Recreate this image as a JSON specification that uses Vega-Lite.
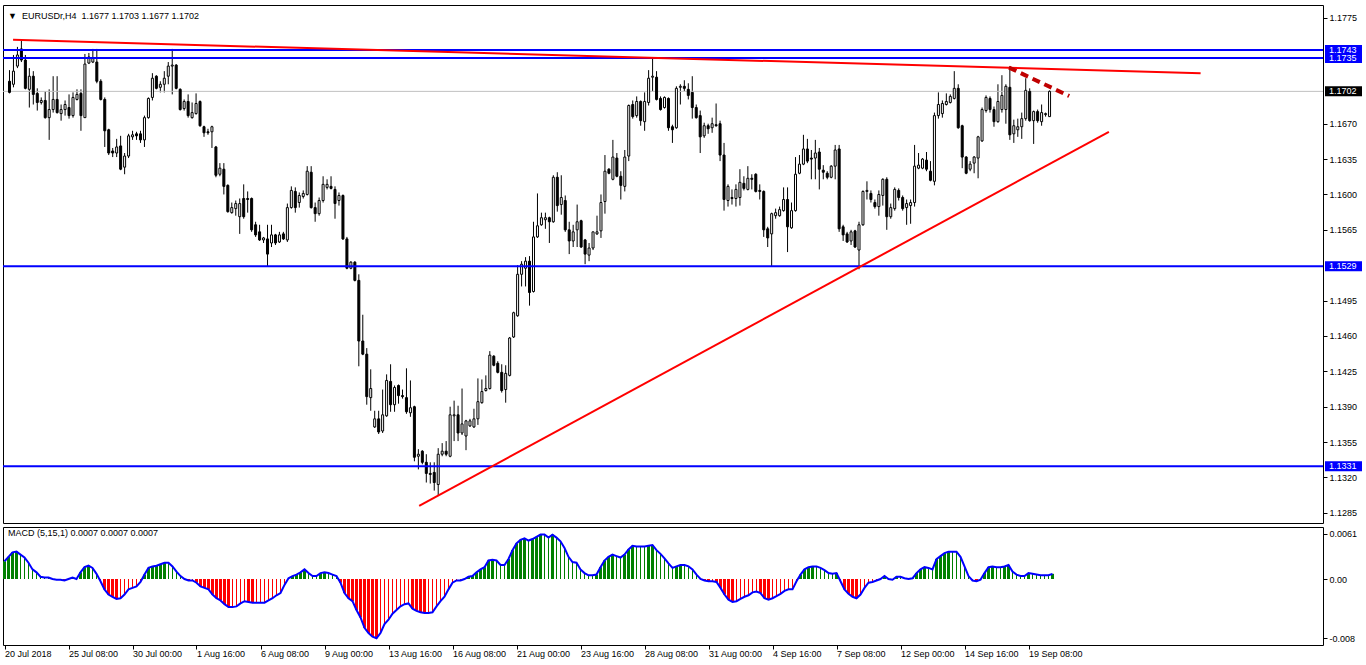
{
"$schema": "https://vega.github.io/schema/vega-lite/v6.json",
"background": "white",
"autosize": {"type": "pad"},
"padding": {"left": 0, "top": 4, "right": 0, "bottom": 0},
"spacing": 2,
"resolve": {"scale": {"x": "independent", "y": "independent"}, "axis": {"x": "independent", "y": "independent"}},
"config": {
  "font": "Liberation Sans",
  "view": {"stroke": "black", "strokeWidth": 1}
},
"datasets": {
"bars": [
{"i":0,"o":1.1712,"h":1.1723,"l":1.1700,"c":1.1701,"m":0.0024},
{"i":1,"o":1.1709,"h":1.1738,"l":1.1706,"c":1.1722,"m":0.0030},
{"i":2,"o":1.1727,"h":1.1746,"l":1.1725,"c":1.1738,"m":0.0036},
{"i":3,"o":1.1744,"h":1.1752,"l":1.1731,"c":1.1733,"m":0.0037},
{"i":4,"o":1.1733,"h":1.1738,"l":1.1704,"c":1.1705,"m":0.0033},
{"i":5,"o":1.1704,"h":1.1725,"l":1.1686,"c":1.1717,"m":0.0029},
{"i":6,"o":1.1717,"h":1.1722,"l":1.1689,"c":1.1699,"m":0.0022},
{"i":7,"o":1.1700,"h":1.1705,"l":1.1683,"c":1.1691,"m":0.0013},
{"i":8,"o":1.1691,"h":1.1696,"l":1.1689,"c":1.1693,"m":0.0009},
{"i":9,"o":1.1693,"h":1.1702,"l":1.1675,"c":1.1676,"m":0.0003},
{"i":10,"o":1.1676,"h":1.1704,"l":1.1654,"c":1.1684,"m":0.0002},
{"i":11,"o":1.1684,"h":1.1717,"l":1.1681,"c":1.1694,"m":0.0002},
{"i":12,"o":1.1694,"h":1.1717,"l":1.1680,"c":1.1681,"m":0.0000},
{"i":13,"o":1.1680,"h":1.1689,"l":1.1673,"c":1.1684,"m":-0.0001},
{"i":14,"o":1.1684,"h":1.1693,"l":1.1678,"c":1.1689,"m":-0.0001},
{"i":15,"o":1.1686,"h":1.1699,"l":1.1675,"c":1.1678,"m":-0.0002},
{"i":16,"o":1.1678,"h":1.1701,"l":1.1676,"c":1.1696,"m":0.0000},
{"i":17,"o":1.1694,"h":1.1704,"l":1.1693,"c":1.1699,"m":0.0002},
{"i":18,"o":1.1700,"h":1.1704,"l":1.1663,"c":1.1678,"m":0.0000},
{"i":19,"o":1.1676,"h":1.1739,"l":1.1676,"c":1.1729,"m":0.0009},
{"i":20,"o":1.1730,"h":1.1740,"l":1.1729,"c":1.1736,"m":0.0016},
{"i":21,"o":1.1731,"h":1.1744,"l":1.1730,"c":1.1735,"m":0.0018},
{"i":22,"o":1.1731,"h":1.1744,"l":1.1710,"c":1.1712,"m":0.0015},
{"i":23,"o":1.1712,"h":1.1714,"l":1.1693,"c":1.1694,"m":0.0007},
{"i":24,"o":1.1694,"h":1.1696,"l":1.1647,"c":1.1663,"m":-0.0003},
{"i":25,"o":1.1664,"h":1.1665,"l":1.1639,"c":1.1641,"m":-0.0014},
{"i":26,"o":1.1643,"h":1.1646,"l":1.1637,"c":1.1641,"m":-0.0021},
{"i":27,"o":1.1641,"h":1.1655,"l":1.1637,"c":1.1647,"m":-0.0024},
{"i":28,"o":1.1648,"h":1.1658,"l":1.1624,"c":1.1625,"m":-0.0027},
{"i":29,"o":1.1627,"h":1.1641,"l":1.1620,"c":1.1638,"m":-0.0026},
{"i":30,"o":1.1638,"h":1.1660,"l":1.1636,"c":1.1658,"m":-0.0021},
{"i":31,"o":1.1657,"h":1.1663,"l":1.1654,"c":1.1659,"m":-0.0014},
{"i":32,"o":1.1660,"h":1.1662,"l":1.1654,"c":1.1658,"m":-0.0012},
{"i":33,"o":1.1660,"h":1.1663,"l":1.1651,"c":1.1654,"m":-0.0010},
{"i":34,"o":1.1654,"h":1.1678,"l":1.1647,"c":1.1676,"m":-0.0004},
{"i":35,"o":1.1676,"h":1.1696,"l":1.1675,"c":1.1695,"m":0.0006},
{"i":36,"o":1.1696,"h":1.1720,"l":1.1693,"c":1.1715,"m":0.0015},
{"i":37,"o":1.1717,"h":1.1718,"l":1.1704,"c":1.1705,"m":0.0017},
{"i":38,"o":1.1706,"h":1.1712,"l":1.1701,"c":1.1709,"m":0.0018},
{"i":39,"o":1.1709,"h":1.1722,"l":1.1701,"c":1.1715,"m":0.0020},
{"i":40,"o":1.1717,"h":1.1731,"l":1.1709,"c":1.1727,"m":0.0022},
{"i":41,"o":1.1727,"h":1.1744,"l":1.1699,"c":1.1728,"m":0.0022},
{"i":42,"o":1.1728,"h":1.1729,"l":1.1704,"c":1.1705,"m":0.0017},
{"i":43,"o":1.1704,"h":1.1705,"l":1.1683,"c":1.1684,"m":0.0010},
{"i":44,"o":1.1685,"h":1.1694,"l":1.1683,"c":1.1692,"m":0.0004},
{"i":45,"o":1.1692,"h":1.1699,"l":1.1676,"c":1.1678,"m":0.0000},
{"i":46,"o":1.1676,"h":1.1691,"l":1.1675,"c":1.1681,"m":-0.0002},
{"i":47,"o":1.1680,"h":1.1700,"l":1.1679,"c":1.1690,"m":-0.0002},
{"i":48,"o":1.1692,"h":1.1693,"l":1.1667,"c":1.1668,"m":-0.0005},
{"i":49,"o":1.1667,"h":1.1668,"l":1.1657,"c":1.1661,"m":-0.0010},
{"i":50,"o":1.1662,"h":1.1665,"l":1.1659,"c":1.1661,"m":-0.0012},
{"i":51,"o":1.1662,"h":1.1668,"l":1.1646,"c":1.1667,"m":-0.0014},
{"i":52,"o":1.1647,"h":1.1648,"l":1.1617,"c":1.1619,"m":-0.0021},
{"i":53,"o":1.1620,"h":1.1631,"l":1.1618,"c":1.1626,"m":-0.0026},
{"i":54,"o":1.1625,"h":1.1631,"l":1.1600,"c":1.1608,"m":-0.0029},
{"i":55,"o":1.1609,"h":1.1610,"l":1.1582,"c":1.1583,"m":-0.0034},
{"i":56,"o":1.1582,"h":1.1592,"l":1.1581,"c":1.1587,"m":-0.0038},
{"i":57,"o":1.1586,"h":1.1594,"l":1.1579,"c":1.1591,"m":-0.0038},
{"i":58,"o":1.1578,"h":1.1596,"l":1.1561,"c":1.1591,"m":-0.0037},
{"i":59,"o":1.1596,"h":1.1610,"l":1.1576,"c":1.1578,"m":-0.0033},
{"i":60,"o":1.1596,"h":1.1603,"l":1.1582,"c":1.1595,"m":-0.0030},
{"i":61,"o":1.1596,"h":1.1597,"l":1.1563,"c":1.1565,"m":-0.0031},
{"i":62,"o":1.1570,"h":1.1573,"l":1.1558,"c":1.1560,"m":-0.0032},
{"i":63,"o":1.1563,"h":1.1570,"l":1.1554,"c":1.1555,"m":-0.0032},
{"i":64,"o":1.1555,"h":1.1558,"l":1.1552,"c":1.1557,"m":-0.0032},
{"i":65,"o":1.1556,"h":1.1570,"l":1.1529,"c":1.1541,"m":-0.0032},
{"i":66,"o":1.1552,"h":1.1570,"l":1.1548,"c":1.1560,"m":-0.0029},
{"i":67,"o":1.1560,"h":1.1561,"l":1.1550,"c":1.1552,"m":-0.0026},
{"i":68,"o":1.1553,"h":1.1563,"l":1.1552,"c":1.1560,"m":-0.0022},
{"i":69,"o":1.1561,"h":1.1563,"l":1.1555,"c":1.1556,"m":-0.0019},
{"i":70,"o":1.1555,"h":1.1591,"l":1.1553,"c":1.1587,"m":-0.0008},
{"i":71,"o":1.1587,"h":1.1608,"l":1.1586,"c":1.1604,"m":0.0001},
{"i":72,"o":1.1603,"h":1.1607,"l":1.1582,"c":1.1587,"m":0.0004},
{"i":73,"o":1.1592,"h":1.1602,"l":1.1587,"c":1.1599,"m":0.0006},
{"i":74,"o":1.1598,"h":1.1604,"l":1.1596,"c":1.1601,"m":0.0009},
{"i":75,"o":1.1600,"h":1.1628,"l":1.1599,"c":1.1623,"m":0.0013},
{"i":76,"o":1.1622,"h":1.1628,"l":1.1586,"c":1.1587,"m":0.0008},
{"i":77,"o":1.1587,"h":1.1592,"l":1.1573,"c":1.1581,"m":0.0004},
{"i":78,"o":1.1581,"h":1.1597,"l":1.1579,"c":1.1594,"m":0.0004},
{"i":79,"o":1.1594,"h":1.1618,"l":1.1592,"c":1.1610,"m":0.0008},
{"i":80,"o":1.1607,"h":1.1615,"l":1.1605,"c":1.1610,"m":0.0009},
{"i":81,"o":1.1608,"h":1.1618,"l":1.1605,"c":1.1606,"m":0.0008},
{"i":82,"o":1.1605,"h":1.1608,"l":1.1576,"c":1.1591,"m":0.0006},
{"i":83,"o":1.1594,"h":1.1602,"l":1.1589,"c":1.1599,"m":0.0004},
{"i":84,"o":1.1599,"h":1.1600,"l":1.1555,"c":1.1556,"m":-0.0005},
{"i":85,"o":1.1556,"h":1.1558,"l":1.1526,"c":1.1527,"m":-0.0019},
{"i":86,"o":1.1527,"h":1.1534,"l":1.1526,"c":1.1533,"m":-0.0026},
{"i":87,"o":1.1533,"h":1.1534,"l":1.1514,"c":1.1515,"m":-0.0030},
{"i":88,"o":1.1515,"h":1.1521,"l":1.1430,"c":1.1455,"m":-0.0042},
{"i":89,"o":1.1455,"h":1.1481,"l":1.1441,"c":1.1442,"m":-0.0052},
{"i":90,"o":1.1442,"h":1.1448,"l":1.1392,"c":1.1400,"m":-0.0066},
{"i":91,"o":1.1399,"h":1.1427,"l":1.1386,"c":1.1408,"m":-0.0073},
{"i":92,"o":1.1370,"h":1.1386,"l":1.1369,"c":1.1378,"m":-0.0078},
{"i":93,"o":1.1378,"h":1.1386,"l":1.1363,"c":1.1365,"m":-0.0080},
{"i":94,"o":1.1366,"h":1.1407,"l":1.1364,"c":1.1382,"m":-0.0073},
{"i":95,"o":1.1381,"h":1.1422,"l":1.1380,"c":1.1416,"m":-0.0061},
{"i":96,"o":1.1415,"h":1.1432,"l":1.1385,"c":1.1392,"m":-0.0055},
{"i":97,"o":1.1392,"h":1.1411,"l":1.1385,"c":1.1409,"m":-0.0047},
{"i":98,"o":1.1411,"h":1.1412,"l":1.1393,"c":1.1401,"m":-0.0042},
{"i":99,"o":1.1401,"h":1.1407,"l":1.1398,"c":1.1400,"m":-0.0037},
{"i":100,"o":1.1399,"h":1.1428,"l":1.1383,"c":1.1385,"m":-0.0034},
{"i":101,"o":1.1384,"h":1.1416,"l":1.1380,"c":1.1389,"m":-0.0033},
{"i":102,"o":1.1390,"h":1.1391,"l":1.1336,"c":1.1340,"m":-0.0040},
{"i":103,"o":1.1341,"h":1.1348,"l":1.1328,"c":1.1343,"m":-0.0043},
{"i":104,"o":1.1346,"h":1.1347,"l":1.1333,"c":1.1335,"m":-0.0045},
{"i":105,"o":1.1335,"h":1.1343,"l":1.1315,"c":1.1324,"m":-0.0046},
{"i":106,"o":1.1324,"h":1.1335,"l":1.1314,"c":1.1323,"m":-0.0046},
{"i":107,"o":1.1325,"h":1.1335,"l":1.1307,"c":1.1315,"m":-0.0045},
{"i":108,"o":1.1313,"h":1.1349,"l":1.1302,"c":1.1343,"m":-0.0037},
{"i":109,"o":1.1343,"h":1.1354,"l":1.1341,"c":1.1346,"m":-0.0030},
{"i":110,"o":1.1346,"h":1.1356,"l":1.1341,"c":1.1343,"m":-0.0024},
{"i":111,"o":1.1341,"h":1.1390,"l":1.1340,"c":1.1382,"m":-0.0014},
{"i":112,"o":1.1381,"h":1.1396,"l":1.1356,"c":1.1382,"m":-0.0005},
{"i":113,"o":1.1382,"h":1.1391,"l":1.1356,"c":1.1364,"m":-0.0002},
{"i":114,"o":1.1364,"h":1.1408,"l":1.1362,"c":1.1373,"m":-0.0002},
{"i":115,"o":1.1361,"h":1.1377,"l":1.1347,"c":1.1376,"m":0.0000},
{"i":116,"o":1.1371,"h":1.1378,"l":1.1370,"c":1.1376,"m":0.0003},
{"i":117,"o":1.1370,"h":1.1388,"l":1.1369,"c":1.1378,"m":0.0004},
{"i":118,"o":1.1378,"h":1.1418,"l":1.1372,"c":1.1395,"m":0.0009},
{"i":119,"o":1.1394,"h":1.1417,"l":1.1393,"c":1.1405,"m":0.0013},
{"i":120,"o":1.1406,"h":1.1421,"l":1.1405,"c":1.1408,"m":0.0016},
{"i":121,"o":1.1408,"h":1.1445,"l":1.1407,"c":1.1441,"m":0.0025},
{"i":122,"o":1.1440,"h":1.1441,"l":1.1430,"c":1.1431,"m":0.0026},
{"i":123,"o":1.1433,"h":1.1435,"l":1.1423,"c":1.1424,"m":0.0025},
{"i":124,"o":1.1424,"h":1.1432,"l":1.1404,"c":1.1406,"m":0.0019},
{"i":125,"o":1.1407,"h":1.1431,"l":1.1394,"c":1.1423,"m":0.0019},
{"i":126,"o":1.1421,"h":1.1459,"l":1.1420,"c":1.1458,"m":0.0027},
{"i":127,"o":1.1459,"h":1.1484,"l":1.1458,"c":1.1483,"m":0.0039},
{"i":128,"o":1.1480,"h":1.1530,"l":1.1479,"c":1.1521,"m":0.0048},
{"i":129,"o":1.1521,"h":1.1534,"l":1.1509,"c":1.1531,"m":0.0053},
{"i":130,"o":1.1527,"h":1.1538,"l":1.1509,"c":1.1534,"m":0.0055},
{"i":131,"o":1.1534,"h":1.1539,"l":1.1490,"c":1.1503,"m":0.0052},
{"i":132,"o":1.1504,"h":1.1573,"l":1.1503,"c":1.1558,"m":0.0054},
{"i":133,"o":1.1558,"h":1.1601,"l":1.1557,"c":1.1569,"m":0.0057},
{"i":134,"o":1.1570,"h":1.1582,"l":1.1569,"c":1.1577,"m":0.0060},
{"i":135,"o":1.1575,"h":1.1582,"l":1.1566,"c":1.1577,"m":0.0060},
{"i":136,"o":1.1577,"h":1.1578,"l":1.1552,"c":1.1573,"m":0.0056},
{"i":137,"o":1.1573,"h":1.1619,"l":1.1572,"c":1.1617,"m":0.0060},
{"i":138,"o":1.1617,"h":1.1622,"l":1.1583,"c":1.1589,"m":0.0056},
{"i":139,"o":1.1590,"h":1.1619,"l":1.1580,"c":1.1597,"m":0.0051},
{"i":140,"o":1.1594,"h":1.1599,"l":1.1563,"c":1.1565,"m":0.0042},
{"i":141,"o":1.1565,"h":1.1573,"l":1.1541,"c":1.1554,"m":0.0030},
{"i":142,"o":1.1554,"h":1.1570,"l":1.1548,"c":1.1563,"m":0.0023},
{"i":143,"o":1.1565,"h":1.1590,"l":1.1548,"c":1.1573,"m":0.0022},
{"i":144,"o":1.1574,"h":1.1575,"l":1.1547,"c":1.1548,"m":0.0013},
{"i":145,"o":1.1555,"h":1.1556,"l":1.1531,"c":1.1541,"m":0.0008},
{"i":146,"o":1.1540,"h":1.1552,"l":1.1534,"c":1.1547,"m":0.0005},
{"i":147,"o":1.1547,"h":1.1563,"l":1.1545,"c":1.1563,"m":0.0005},
{"i":148,"o":1.1561,"h":1.1579,"l":1.1560,"c":1.1563,"m":0.0006},
{"i":149,"o":1.1564,"h":1.1600,"l":1.1557,"c":1.1592,"m":0.0016},
{"i":150,"o":1.1593,"h":1.1639,"l":1.1581,"c":1.1623,"m":0.0025},
{"i":151,"o":1.1625,"h":1.1626,"l":1.1620,"c":1.1621,"m":0.0030},
{"i":152,"o":1.1615,"h":1.1654,"l":1.1614,"c":1.1637,"m":0.0033},
{"i":153,"o":1.1636,"h":1.1641,"l":1.1617,"c":1.1618,"m":0.0031},
{"i":154,"o":1.1618,"h":1.1623,"l":1.1595,"c":1.1609,"m":0.0029},
{"i":155,"o":1.1608,"h":1.1644,"l":1.1603,"c":1.1637,"m":0.0033},
{"i":156,"o":1.1638,"h":1.1689,"l":1.1633,"c":1.1688,"m":0.0040},
{"i":157,"o":1.1689,"h":1.1693,"l":1.1675,"c":1.1677,"m":0.0045},
{"i":158,"o":1.1678,"h":1.1697,"l":1.1676,"c":1.1692,"m":0.0044},
{"i":159,"o":1.1692,"h":1.1693,"l":1.1668,"c":1.1673,"m":0.0044},
{"i":160,"o":1.1672,"h":1.1701,"l":1.1663,"c":1.1692,"m":0.0044},
{"i":161,"o":1.1691,"h":1.1723,"l":1.1688,"c":1.1715,"m":0.0045},
{"i":162,"o":1.1716,"h":1.1735,"l":1.1702,"c":1.1717,"m":0.0046},
{"i":163,"o":1.1716,"h":1.1722,"l":1.1693,"c":1.1694,"m":0.0039},
{"i":164,"o":1.1695,"h":1.1697,"l":1.1683,"c":1.1684,"m":0.0034},
{"i":165,"o":1.1686,"h":1.1697,"l":1.1685,"c":1.1696,"m":0.0028},
{"i":166,"o":1.1695,"h":1.1696,"l":1.1663,"c":1.1666,"m":0.0021},
{"i":167,"o":1.1667,"h":1.1669,"l":1.1651,"c":1.1664,"m":0.0015},
{"i":168,"o":1.1666,"h":1.1707,"l":1.1665,"c":1.1705,"m":0.0017},
{"i":169,"o":1.1706,"h":1.1709,"l":1.1689,"c":1.1707,"m":0.0019},
{"i":170,"o":1.1707,"h":1.1713,"l":1.1702,"c":1.1705,"m":0.0019},
{"i":171,"o":1.1704,"h":1.1710,"l":1.1694,"c":1.1698,"m":0.0017},
{"i":172,"o":1.1701,"h":1.1717,"l":1.1675,"c":1.1686,"m":0.0013},
{"i":173,"o":1.1686,"h":1.1689,"l":1.1675,"c":1.1676,"m":0.0006},
{"i":174,"o":1.1678,"h":1.1683,"l":1.1641,"c":1.1657,"m":0.0000},
{"i":175,"o":1.1658,"h":1.1671,"l":1.1656,"c":1.1668,"m":-0.0002},
{"i":176,"o":1.1668,"h":1.1670,"l":1.1660,"c":1.1665,"m":-0.0003},
{"i":177,"o":1.1666,"h":1.1676,"l":1.1661,"c":1.1670,"m":-0.0003},
{"i":178,"o":1.1669,"h":1.1690,"l":1.1667,"c":1.1668,"m":-0.0004},
{"i":179,"o":1.1670,"h":1.1673,"l":1.1633,"c":1.1639,"m":-0.0012},
{"i":180,"o":1.1639,"h":1.1651,"l":1.1584,"c":1.1595,"m":-0.0021},
{"i":181,"o":1.1594,"h":1.1610,"l":1.1588,"c":1.1608,"m":-0.0028},
{"i":182,"o":1.1597,"h":1.1605,"l":1.1590,"c":1.1596,"m":-0.0031},
{"i":183,"o":1.1596,"h":1.1610,"l":1.1588,"c":1.1605,"m":-0.0030},
{"i":184,"o":1.1597,"h":1.1625,"l":1.1589,"c":1.1612,"m":-0.0027},
{"i":185,"o":1.1611,"h":1.1618,"l":1.1604,"c":1.1606,"m":-0.0024},
{"i":186,"o":1.1605,"h":1.1628,"l":1.1604,"c":1.1616,"m":-0.0022},
{"i":187,"o":1.1616,"h":1.1620,"l":1.1605,"c":1.1615,"m":-0.0018},
{"i":188,"o":1.1620,"h":1.1621,"l":1.1602,"c":1.1603,"m":-0.0017},
{"i":189,"o":1.1604,"h":1.1610,"l":1.1595,"c":1.1603,"m":-0.0019},
{"i":190,"o":1.1603,"h":1.1604,"l":1.1558,"c":1.1565,"m":-0.0026},
{"i":191,"o":1.1566,"h":1.1568,"l":1.1548,"c":1.1557,"m":-0.0028},
{"i":192,"o":1.1561,"h":1.1582,"l":1.1529,"c":1.1581,"m":-0.0026},
{"i":193,"o":1.1579,"h":1.1586,"l":1.1576,"c":1.1582,"m":-0.0023},
{"i":194,"o":1.1579,"h":1.1588,"l":1.1578,"c":1.1585,"m":-0.0020},
{"i":195,"o":1.1584,"h":1.1607,"l":1.1583,"c":1.1595,"m":-0.0016},
{"i":196,"o":1.1595,"h":1.1607,"l":1.1543,"c":1.1568,"m":-0.0014},
{"i":197,"o":1.1567,"h":1.1592,"l":1.1566,"c":1.1584,"m":-0.0014},
{"i":198,"o":1.1584,"h":1.1637,"l":1.1583,"c":1.1620,"m":-0.0003},
{"i":199,"o":1.1621,"h":1.1639,"l":1.1620,"c":1.1630,"m":0.0006},
{"i":200,"o":1.1630,"h":1.1659,"l":1.1629,"c":1.1645,"m":0.0013},
{"i":201,"o":1.1645,"h":1.1655,"l":1.1631,"c":1.1633,"m":0.0016},
{"i":202,"o":1.1636,"h":1.1644,"l":1.1615,"c":1.1635,"m":0.0017},
{"i":203,"o":1.1636,"h":1.1654,"l":1.1615,"c":1.1641,"m":0.0017},
{"i":204,"o":1.1642,"h":1.1646,"l":1.1605,"c":1.1625,"m":0.0015},
{"i":205,"o":1.1624,"h":1.1629,"l":1.1615,"c":1.1622,"m":0.0012},
{"i":206,"o":1.1621,"h":1.1623,"l":1.1615,"c":1.1617,"m":0.0008},
{"i":207,"o":1.1617,"h":1.1629,"l":1.1616,"c":1.1628,"m":0.0007},
{"i":208,"o":1.1628,"h":1.1649,"l":1.1615,"c":1.1644,"m":0.0008},
{"i":209,"o":1.1645,"h":1.1649,"l":1.1563,"c":1.1566,"m":-0.0003},
{"i":210,"o":1.1568,"h":1.1570,"l":1.1554,"c":1.1560,"m":-0.0014},
{"i":211,"o":1.1561,"h":1.1563,"l":1.1552,"c":1.1553,"m":-0.0020},
{"i":212,"o":1.1554,"h":1.1565,"l":1.1550,"c":1.1563,"m":-0.0024},
{"i":213,"o":1.1564,"h":1.1565,"l":1.1547,"c":1.1548,"m":-0.0026},
{"i":214,"o":1.1545,"h":1.1573,"l":1.1526,"c":1.1570,"m":-0.0021},
{"i":215,"o":1.1570,"h":1.1604,"l":1.1569,"c":1.1603,"m":-0.0012},
{"i":216,"o":1.1603,"h":1.1613,"l":1.1595,"c":1.1604,"m":-0.0005},
{"i":217,"o":1.1601,"h":1.1604,"l":1.1592,"c":1.1595,"m":-0.0004},
{"i":218,"o":1.1592,"h":1.1595,"l":1.1586,"c":1.1588,"m":-0.0002},
{"i":219,"o":1.1588,"h":1.1604,"l":1.1579,"c":1.1600,"m":0.0000},
{"i":220,"o":1.1599,"h":1.1616,"l":1.1589,"c":1.1615,"m":0.0004},
{"i":221,"o":1.1615,"h":1.1617,"l":1.1565,"c":1.1578,"m":0.0000},
{"i":222,"o":1.1578,"h":1.1591,"l":1.1576,"c":1.1587,"m":-0.0001},
{"i":223,"o":1.1586,"h":1.1607,"l":1.1584,"c":1.1605,"m":0.0003},
{"i":224,"o":1.1604,"h":1.1606,"l":1.1594,"c":1.1597,"m":0.0003},
{"i":225,"o":1.1597,"h":1.1599,"l":1.1584,"c":1.1586,"m":0.0001},
{"i":226,"o":1.1587,"h":1.1595,"l":1.1570,"c":1.1591,"m":0.0000},
{"i":227,"o":1.1589,"h":1.1595,"l":1.1571,"c":1.1592,"m":0.0001},
{"i":228,"o":1.1592,"h":1.1649,"l":1.1588,"c":1.1628,"m":0.0008},
{"i":229,"o":1.1626,"h":1.1641,"l":1.1625,"c":1.1629,"m":0.0013},
{"i":230,"o":1.1626,"h":1.1636,"l":1.1625,"c":1.1635,"m":0.0016},
{"i":231,"o":1.1634,"h":1.1642,"l":1.1623,"c":1.1625,"m":0.0015},
{"i":232,"o":1.1623,"h":1.1633,"l":1.1613,"c":1.1614,"m":0.0013},
{"i":233,"o":1.1613,"h":1.1681,"l":1.1609,"c":1.1678,"m":0.0027},
{"i":234,"o":1.1678,"h":1.1701,"l":1.1675,"c":1.1689,"m":0.0031},
{"i":235,"o":1.1680,"h":1.1693,"l":1.1676,"c":1.1690,"m":0.0035},
{"i":236,"o":1.1689,"h":1.1700,"l":1.1688,"c":1.1692,"m":0.0037},
{"i":237,"o":1.1691,"h":1.1699,"l":1.1690,"c":1.1697,"m":0.0037},
{"i":238,"o":1.1695,"h":1.1722,"l":1.1694,"c":1.1705,"m":0.0037},
{"i":239,"o":1.1705,"h":1.1709,"l":1.1665,"c":1.1666,"m":0.0030},
{"i":240,"o":1.1668,"h":1.1669,"l":1.1626,"c":1.1637,"m":0.0017},
{"i":241,"o":1.1637,"h":1.1638,"l":1.1620,"c":1.1621,"m":0.0004},
{"i":242,"o":1.1625,"h":1.1633,"l":1.1623,"c":1.1630,"m":-0.0002},
{"i":243,"o":1.1631,"h":1.1638,"l":1.1621,"c":1.1637,"m":-0.0003},
{"i":244,"o":1.1636,"h":1.1658,"l":1.1616,"c":1.1657,"m":-0.0001},
{"i":245,"o":1.1653,"h":1.1686,"l":1.1652,"c":1.1684,"m":0.0008},
{"i":246,"o":1.1683,"h":1.1698,"l":1.1681,"c":1.1696,"m":0.0016},
{"i":247,"o":1.1695,"h":1.1697,"l":1.1681,"c":1.1684,"m":0.0017},
{"i":248,"o":1.1684,"h":1.1687,"l":1.1667,"c":1.1672,"m":0.0016},
{"i":249,"o":1.1672,"h":1.1709,"l":1.1671,"c":1.1692,"m":0.0016},
{"i":250,"o":1.1684,"h":1.1718,"l":1.1681,"c":1.1698,"m":0.0017},
{"i":251,"o":1.1684,"h":1.1709,"l":1.1670,"c":1.1707,"m":0.0019},
{"i":252,"o":1.1706,"h":1.1727,"l":1.1654,"c":1.1659,"m":0.0010},
{"i":253,"o":1.1660,"h":1.1674,"l":1.1651,"c":1.1668,"m":0.0006},
{"i":254,"o":1.1664,"h":1.1675,"l":1.1657,"c":1.1667,"m":0.0004},
{"i":255,"o":1.1667,"h":1.1681,"l":1.1655,"c":1.1675,"m":0.0004},
{"i":256,"o":1.1675,"h":1.1715,"l":1.1673,"c":1.1703,"m":0.0008},
{"i":257,"o":1.1702,"h":1.1705,"l":1.1672,"c":1.1673,"m":0.0007},
{"i":258,"o":1.1673,"h":1.1683,"l":1.1650,"c":1.1682,"m":0.0006},
{"i":259,"o":1.1682,"h":1.1684,"l":1.1671,"c":1.1673,"m":0.0005},
{"i":260,"o":1.1672,"h":1.1689,"l":1.1668,"c":1.1681,"m":0.0005},
{"i":261,"o":1.1679,"h":1.1681,"l":1.1677,"c":1.1680,"m":0.0005},
{"i":262,"o":1.1677,"h":1.1703,"l":1.1677,"c":1.1702,"m":0.0007}
],
"levels": [
{"p":1.1743,"k":"level"},
{"p":1.1735,"k":"level"},
{"p":1.1529,"k":"level"},
{"p":1.1331,"k":"level"},
{"p":1.1702,"k":"bid"}
],
"trend": [
{"t":"top","i":0.9,"p":1.1753},
{"t":"top","i":300.05,"p":1.1720},
{"t":"bottom","i":103.2,"p":1.1292},
{"t":"bottom","i":276.95,"p":1.1662}
],
"dash": [
{"i":251.8,"p":1.17255},
{"i":266.95,"p":1.16974}
]
},
"vconcat": [
{
"width": 1320,
"height": 518,
"title": {"text": "\u25bc\u00a0\u00a0EURUSDr,H4\u00a0\u00a01.1677 1.1703 1.1677 1.1702", "anchor": "start", "frame": "group", "orient": "top", "offset": -25, "dx": 5, "baseline": "bottom", "font": "Liberation Sans", "fontSize": 9, "fontWeight": "normal", "color": "black"},
"encoding": {
  "x": {"field": "i", "type": "quantitative", "scale": {"domain": [-0.375, 329.625], "nice": false, "zero": false}, "axis": null},
  "y": {"field": "l", "type": "quantitative", "scale": {"domain": [1.12799, 1.17825], "nice": false, "zero": false},
        "axis": {"orient": "right", "title": null, "values": [1.1775, 1.167, 1.1635, 1.16, 1.1565, 1.1495, 1.146, 1.1425, 1.139, 1.1355, 1.132, 1.1285], "format": ".4f",
                 "labelPadding": 2, "tickSize": 4, "domain": false, "grid": false, "labelFont": "Liberation Sans", "labelFontSize": 9, "labelColor": "#000000", "tickColor": "#000000"}}
},
"layer": [
{
"data": {"name": "bars"},
"mark": {"type": "rule", "color": "black", "strokeWidth": 1},
"encoding": {
  "y2": {"field": "h"}
}
},
{
"data": {"name": "levels"},
"transform": [{"filter": "datum.k == 'bid'"}],
"mark": {"type": "rule", "color": "#c0c0c0", "strokeWidth": 1},
"encoding": {
  "x": null,
  "y": {"field": "p", "type": "quantitative"}
}
},
{
"data": {"name": "bars"},
"mark": {"type": "bar", "size": 2, "stroke": "black", "strokeWidth": 1},
"encoding": {
  "y": {"field": "o", "type": "quantitative"},
  "y2": {"field": "c"},
  "fill": {"condition": {"test": "datum.c >= datum.o", "value": "white"}, "value": "black"}
}
},
{
"data": {"name": "levels"},
"transform": [{"filter": "datum.k == 'level'"}],
"mark": {"type": "rule", "color": "#0000ff", "strokeWidth": 2},
"encoding": {
  "x": null,
  "y": {"field": "p", "type": "quantitative"}
}
},
{
"data": {"name": "trend"},
"mark": {"type": "line", "color": "#ff0000", "strokeWidth": 2},
"encoding": {
  "y": {"field": "p", "type": "quantitative"},
  "detail": {"field": "t"}
}
},
{
"data": {"name": "dash"},
"mark": {"type": "line", "color": "#c00000", "strokeWidth": 4, "strokeDash": [8, 5], "strokeCap": "butt"},
"encoding": {
  "y": {"field": "p", "type": "quantitative"}
}
},
{
"data": {"name": "levels"},
"mark": {"type": "bar", "orient": "horizontal", "size": 10, "xOffset": 2, "x2Offset": 39},
"encoding": {
  "x": {"value": "width"},
  "x2": {"value": "width"},
  "y": {"field": "p", "type": "quantitative"},
  "color": {"condition": {"test": "datum.k == 'bid'", "value": "black"}, "value": "#0000ff"}
}
},
{
"data": {"name": "levels"},
"mark": {"type": "text", "align": "left", "baseline": "middle", "color": "white", "fontSize": 9, "font": "Liberation Sans", "dx": 6},
"encoding": {
  "x": {"value": "width"},
  "y": {"field": "p", "type": "quantitative"},
  "text": {"field": "p", "type": "quantitative", "format": ".4f"}
}
}
]
},
{
"width": 1320,
"height": 118,
"title": {"text": "MACD (5,15,1) 0.0007 0.0007 0.0007", "anchor": "start", "frame": "group", "orient": "top", "offset": -20, "dx": 5, "baseline": "bottom", "font": "Liberation Sans", "fontSize": 9, "fontWeight": "normal", "color": "black"},
"encoding": {
  "x": {"field": "i", "type": "quantitative", "scale": {"domain": [-0.375, 329.625], "nice": false, "zero": false},
        "axis": {"orient": "bottom", "title": null, "values": [0,16,32,48,64,80,96,112,128,144,160,176,192,208,224,240,256],
                 "labelExpr": "['20 Jul 2018','25 Jul 08:00','30 Jul 00:00','1 Aug 16:00','6 Aug 08:00','9 Aug 00:00','13 Aug 16:00','16 Aug 08:00','21 Aug 00:00','23 Aug 16:00','28 Aug 08:00','31 Aug 00:00','4 Sep 16:00','7 Sep 08:00','12 Sep 00:00','14 Sep 16:00','19 Sep 08:00'][round(datum.value/16)]",
                 "labelAlign": "left", "labelFlush": false, "labelPadding": 0, "tickSize": 4, "domain": false, "grid": false, "labelFont": "Liberation Sans", "labelFontSize": 9, "labelColor": "#000000", "tickColor": "#000000"}},
  "y": {"field": "m", "type": "quantitative", "scale": {"domain": [-0.00892, 0.00703], "nice": false, "zero": false},
        "axis": {"orient": "right", "title": null, "values": [0.0061, 0, -0.008], "labelExpr": "datum.value == 0 ? '0.00' : (datum.value > 0 ? '0.0061' : '-0.008')",
                 "labelPadding": 2, "tickSize": 4, "domain": false, "grid": false, "labelFont": "Liberation Sans", "labelFontSize": 9, "labelColor": "#000000", "tickColor": "#000000"}}
},
"layer": [
{
"data": {"name": "bars"},
"transform": [{"window": [{"op": "lag", "field": "m", "as": "pm"}], "sort": [{"field": "i"}]}],
"mark": {"type": "rule"},
"encoding": {
  "y2": {"datum": 0},
  "color": {"condition": {"test": "datum.m >= 0", "value": "#008000"}, "value": "#ff0000"},
  "strokeWidth": {"condition": {"test": "datum.pm == null || abs(datum.m) > abs(datum.pm)", "value": 3}, "value": 1}
}
},
{
"data": {"name": "bars"},
"mark": {"type": "line", "color": "#0000ff", "strokeWidth": 2}
}
]
}
]
}
